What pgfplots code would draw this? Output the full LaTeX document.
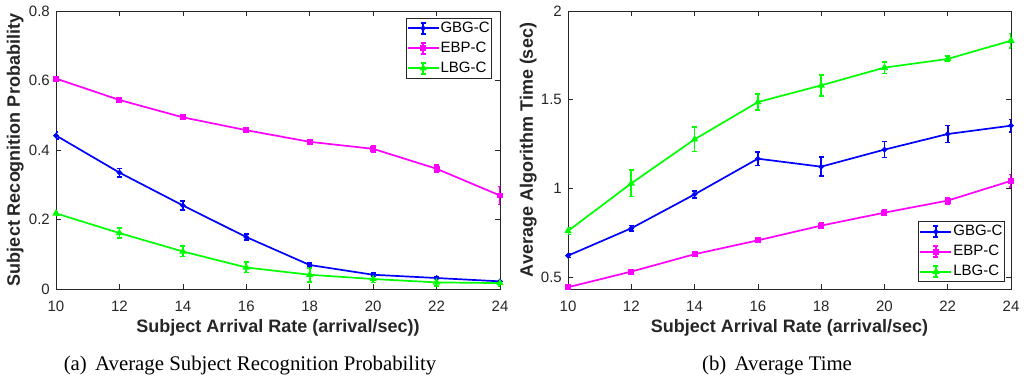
\documentclass[border=0pt]{standalone}
\usepackage{pgfplots}
\usepackage{pgfplotstable}
\pgfplotsset{compat=1.18}
\usepackage{fontspec}
\setmainfont{Liberation Serif}
\newfontfamily\helv{Liberation Sans}
\definecolor{mblue}{RGB}{0,0,255}
\definecolor{mmag}{RGB}{255,0,255}
\definecolor{mgreen}{RGB}{0,255,0}
\definecolor{axc}{RGB}{38,38,38}

\pgfplotstableread{
x y e
10 0.4417 0.010
12 0.335 0.012
14 0.2405 0.013
16 0.1495 0.008
18 0.069 0.005
20 0.041 0.005
22 0.0316 0.004
24 0.022 0.003
}\gbgA
\pgfplotstableread{
x y e
10 0.6055 0.005
12 0.544 0.005
14 0.494 0.006
16 0.457 0.006
18 0.4235 0.006
20 0.4034 0.010
22 0.346 0.010
24 0.269 0.026
}\ebpA
\pgfplotstableread{
x y e
10 0.2175 0.006
12 0.161 0.015
14 0.108 0.015
16 0.062 0.015
18 0.041 0.020
20 0.0287 0.010
22 0.019 0.010
24 0.017 0.008
}\lbgA
\pgfplotstableread{
x y e
10 0.622 0.010
12 0.776 0.015
14 0.967 0.020
16 1.168 0.038
18 1.123 0.053
20 1.219 0.045
22 1.307 0.048
24 1.354 0.035
}\gbgB
\pgfplotstableread{
x y e
10 0.444 0.010
12 0.532 0.010
14 0.630 0.010
16 0.708 0.010
18 0.791 0.015
20 0.864 0.015
22 0.932 0.018
24 1.043 0.035
}\ebpB
\pgfplotstableread{
x y e
10 0.761 0.020
12 1.029 0.075
14 1.277 0.068
16 1.487 0.045
18 1.581 0.060
20 1.681 0.033
22 1.730 0.015
24 1.833 0.040
}\lbgB

\pgfplotsset{
  common/.style={
    scale only axis, width=443pt, height=278pt,
    xmin=10, xmax=24, xtick={10,12,...,24},
    tick align=inside, xtick pos=both, ytick pos=both,
    xticklabel pos=bottom, yticklabel pos=left,
    major tick length=5pt,
    axis line style={axc, line width=0.6pt},
    every tick/.style={axc, line width=0.6pt},
    tick label style={font=\helv\fontsize{15}{18}\selectfont, text=axc},
    /pgf/number format/assume math mode=true,
    xticklabel style={anchor=center, inner sep=0pt, yshift=-17pt},
    yticklabel style={anchor=east, inner sep=0pt, xshift=-6pt},
    label style={font=\helv\bfseries\fontsize{18}{21}\selectfont, text=axc},
    xlabel style={at={(axis description cs:0.5,-0.140)}, anchor=center},
    ylabel style={at={(axis description cs:-0.092,0.5)}, anchor=center, rotate=0},
    legend cell align=left,
    legend style={draw=axc, line width=0.6pt, fill=white,
      font=\helv\fontsize{15}{18}\selectfont,
      inner xsep=1pt, inner ysep=0pt,
      nodes={text height=11pt, text depth=3pt, inner ysep=3pt, inner xsep=1pt},
      /tikz/every even column/.style={column sep=0pt}},
    legend image code/.code={
      \draw[mark repeat=2,mark phase=2,##1] plot coordinates {(0pt,0pt) (15.5pt,0pt) (31pt,0pt)};
      \draw[##1, mark=none, solid, line width=1.6pt] (15.5pt,-5.5pt) -- (15.5pt,5.5pt) (13pt,-5.5pt) -- (18pt,-5.5pt) (13pt,5.5pt) -- (18pt,5.5pt);
    },
    error bars/error bar style={line width=1.6pt},
    error bars/error mark options={rotate=90, mark size=2.5pt, line width=1.6pt},
  },
  gbg/.style={mblue, line width=1.7pt, mark=*, mark size=1.8pt, mark options={solid}},
  ebp/.style={mmag, line width=1.7pt, mark=square*, mark size=2.1pt, mark options={solid}},
  lbg/.style={mgreen, line width=1.7pt, mark=triangle*, mark size=2.6pt, mark options={solid}},
}

\begin{document}
\begin{tikzpicture}
\useasboundingbox (0pt,0pt) rectangle (1027pt,377pt);

\begin{axis}[common, at={(56pt,88pt)}, anchor=south west, width=444pt,
  ymin=0, ymax=0.8, ytick={0,0.2,0.4,0.6,0.8},
  xlabel={Subject Arrival Rate (arrival/sec))},
  ylabel={Subject Recognition Probability},
  legend style={at={(axis description cs:0.982,0.975)}, anchor=north east},
]
\addplot[gbg, error bars/.cd, y dir=both, y explicit] table[x=x, y=y, y error=e] {\gbgA};
\addlegendentry{GBG-C}
\addplot[ebp, error bars/.cd, y dir=both, y explicit] table[x=x, y=y, y error=e] {\ebpA};
\addlegendentry{EBP-C}
\addplot[lbg, error bars/.cd, y dir=both, y explicit] table[x=x, y=y, y error=e] {\lbgA};
\addlegendentry{LBG-C}
\end{axis}

\begin{axis}[common, at={(568pt,88pt)}, anchor=south west, width=443pt,
  ymin=0.434, ymax=2, ytick={0.5,1,1.5,2},
  xlabel={Subject Arrival Rate (arrival/sec)},
  ylabel={Average Algorithm Time (sec)},
  ylabel style={at={(axis description cs:-0.090,0.5)}},
  legend style={at={(axis description cs:0.986,0.025)}, anchor=south east},
]
\addplot[gbg, error bars/.cd, y dir=both, y explicit] table[x=x, y=y, y error=e] {\gbgB};
\addlegendentry{GBG-C}
\addplot[ebp, error bars/.cd, y dir=both, y explicit] table[x=x, y=y, y error=e] {\ebpB};
\addlegendentry{EBP-C}
\addplot[lbg, error bars/.cd, y dir=both, y explicit] table[x=x, y=y, y error=e] {\lbgB};
\addlegendentry{LBG-C}
\end{axis}

\node[anchor=base, inner sep=0pt, font=\fontsize{20.8}{24}\selectfont] at (250pt,6.3pt) {(a)\hspace{0.4em}Average Subject Recognition Probability};
\node[anchor=base, inner sep=0pt, font=\fontsize{20.8}{24}\selectfont] at (777pt,6.3pt) {(b)\hspace{0.4em}Average Time};
\end{tikzpicture}
\end{document}
